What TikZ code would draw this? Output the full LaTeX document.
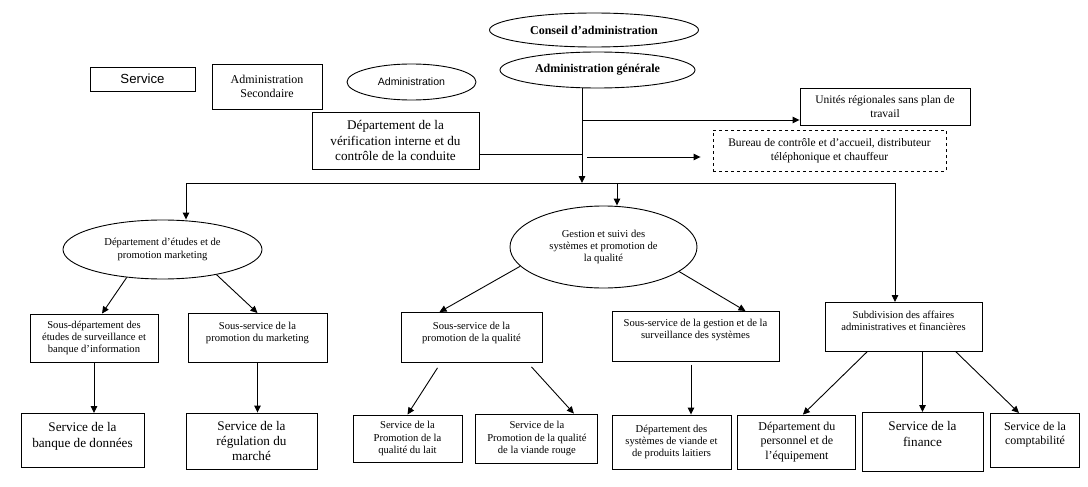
\documentclass[tikz,border=0pt]{standalone}
\usepackage{fontspec}
\setmainfont{Liberation Serif}
\setsansfont{Liberation Sans}
\usetikzlibrary{arrows.meta, positioning, shapes.geometric}

\newcommand{\fsmall}{\fontsize{10.6pt}{12.4pt}\selectfont}
\newcommand{\fnote}{\fontsize{11.5pt}{13.5pt}\selectfont}
\newcommand{\fmid}{\fontsize{12pt}{14.4pt}\selectfont}
\newcommand{\fbig}{\fontsize{13.2pt}{15.2pt}\selectfont}

\begin{document}
\begin{tikzpicture}[
  x=1pt, y=-1pt,
  box/.style={draw, line width=0.9pt, align=center, inner sep=3pt},
  oval/.style={draw, ellipse, line width=0.9pt, align=center, inner sep=1pt},
  toptext/.style={anchor=north, inner ysep=4pt},
  link/.style={line width=0.9pt},
  arrow/.style={line width=0.9pt, -{Triangle[length=7pt, width=6.5pt]}},
  every node/.style={font=\fsmall}
]
\useasboundingbox (0,0) rectangle (1088,487);

% TOP
\node[oval, minimum width=209pt, minimum height=34pt, font=\fmid\bfseries] (conseil) at (594,30) {Conseil d’administration};
\node[oval, minimum width=195pt, minimum height=36pt, font=\fmid\bfseries] (ag) at (597.5,70) {Administration générale};

% LEGEND
\node[box, minimum width=105pt, minimum height=24pt, font=\fbig\sffamily] (service) at (142.5,79) {Service};
\node[box, minimum width=110pt, minimum height=45pt, font=\fmid] (admsec) at (267,86.5) {Administration\\Secondaire};
\node[oval, minimum width=129pt, minimum height=36pt, font=\fsmall\sffamily] (adm) at (411.5,82) {Administration};

% STAFF UNITS
\node[box, minimum width=167pt, minimum height=57pt, font=\fbig] (verif) at (395.5,140.5) {Département de la\\vérification interne et du\\contrôle de la conduite};
\node[box, minimum width=170pt, minimum height=37pt, font=\fnote] (unites) at (885,106.5) {Unités régionales sans plan de\\travail};
\node[box, dashed, minimum width=233pt, minimum height=41pt, font=\fnote] (bureau) at (829.5,150.5) {Bureau de contrôle et d’accueil, distributeur\\téléphonique et chauffeur};

% DEPARTMENTS
\node[oval, minimum width=199pt, minimum height=59pt] (etudes) at (162.5,249.5) {Département d’études et de\\promotion marketing};
\node[oval, minimum width=187pt, minimum height=82pt] (gestion) at (603.5,247) {Gestion et suivi des\\systèmes et promotion de\\la qualité};
\node[box, toptext, minimum width=157pt, text height=24.4pt, text depth=16.6pt] (subdiv) at (903.5,302) {Subdivision des affaires\\administratives et financières};

% SUB-SERVICES
\node[box, minimum width=128pt, minimum height=48pt] (sousdep) at (94,338) {Sous-département des\\études de surveillance et\\banque d’information};
\node[box, toptext, minimum width=139pt, text height=24.4pt, text depth=16.6pt] (sousmark) at (257.5,313) {Sous-service de la\\promotion du marketing};
\node[box, toptext, minimum width=141pt, text height=25.4pt, text depth=16.6pt] (sousqual) at (471.5,312) {Sous-service de la\\promotion de la qualité};
\node[box, toptext, minimum width=167pt, text height=23.4pt, text depth=18.6pt] (sousgest) at (695.5,311) {Sous-service de la gestion et de la\\surveillance des systèmes};

% SERVICES
\node[box, toptext, minimum width=123pt, text height=29.7pt, text depth=16.3pt, font=\fbig] (banque) at (82.5,413) {Service de la\\banque de données};
\node[box, minimum width=131pt, minimum height=56pt, font=\fbig] (regul) at (251.5,441) {Service de la\\régulation du\\marché};
\node[box, minimum width=109pt, minimum height=47pt] (lait) at (407.5,438.5) {Service de la\\Promotion de la\\qualité du lait};
\node[box, minimum width=122pt, minimum height=49pt, right=13pt of lait] (rouge) {Service de la\\Promotion de la qualité\\de la viande rouge};
\node[box, minimum width=119pt, minimum height=54pt] (viande) at (671.5,442) {Département des\\systèmes de viande et\\de produits laitiers};
\node[box, minimum width=118pt, minimum height=54pt, font=\fmid, right=6pt of viande] (personnel) {Département du\\personnel et de\\l’équipement};
\node[box, toptext, minimum width=121pt, text height=29.7pt, text depth=21.3pt, font=\fbig] (finance) at (922.5,412) {Service de la\\finance};
\node[box, toptext, minimum width=89pt, text height=27.4pt, text depth=18.6pt, font=\fmid] (compta) at (1035,413) {Service de la\\comptabilité};

% MAIN TRUNK
\coordinate (hub) at (582,183);
\coordinate (leftend) at (186,183);
\coordinate (midjoin) at (617,183);
\coordinate (rightend) at (895,183);
\draw[link] (leftend) -- (rightend);
\draw[arrow] (ag.south -| hub) -- (hub);
\draw[arrow] (leftend) -- (leftend |- etudes.north);
\draw[arrow] (midjoin) -- (midjoin |- gestion.north);
\draw[arrow] (rightend) -- (rightend |- subdiv.north);

% SIDE UNITS
\coordinate (uin) at ([yshift=-13.5pt]unites.west);
\draw[arrow] (hub |- uin) -- (uin);
\coordinate (bin) at ([xshift=-12pt, yshift=-6.5pt]bureau.west);
\coordinate (bstart) at (hub |- bin);
\draw[arrow] ([xshift=5pt]bstart) -- (bin);
\coordinate (vout) at ([yshift=-13.5pt]verif.east);
\draw[link] (vout) -- (vout -| hub);

% MARKETING BRANCH
\draw[arrow] (etudes.218) -- ([xshift=8pt]sousdep.north);
\draw[arrow] (etudes.335) -- (sousmark.north);
\draw[arrow] (sousdep.south) -- (sousdep.south |- banque.north);
\draw[arrow] (sousmark.south) -- (sousmark.south |- regul.north);

% QUALITY BRANCH
\draw[arrow] (gestion.193) -- ([xshift=-32pt]sousqual.north);
\draw[arrow] (gestion.342) -- ([xshift=50pt]sousgest.north);
\draw[arrow] ([xshift=-34pt, yshift=-5pt]sousqual.south) -- (lait.north);
\draw[arrow] ([xshift=60pt, yshift=-4pt]sousqual.south) -- ([xshift=37pt]rouge.north);
\coordinate (vtop) at ([xshift=19.5pt]viande.north);
\coordinate (vbot) at (vtop |- sousgest.south);
\draw[arrow] ([yshift=-3pt]vbot) -- (vtop);

% ADMIN BRANCH
\draw[arrow] ([xshift=-36.5pt]subdiv.south) -- ([xshift=6pt]personnel.north);
\draw[arrow] (finance.north |- subdiv.south) -- (finance.north);
\draw[arrow] ([xshift=52.5pt]subdiv.south) -- ([xshift=-16pt]compta.north);

\end{tikzpicture}
\end{document}
